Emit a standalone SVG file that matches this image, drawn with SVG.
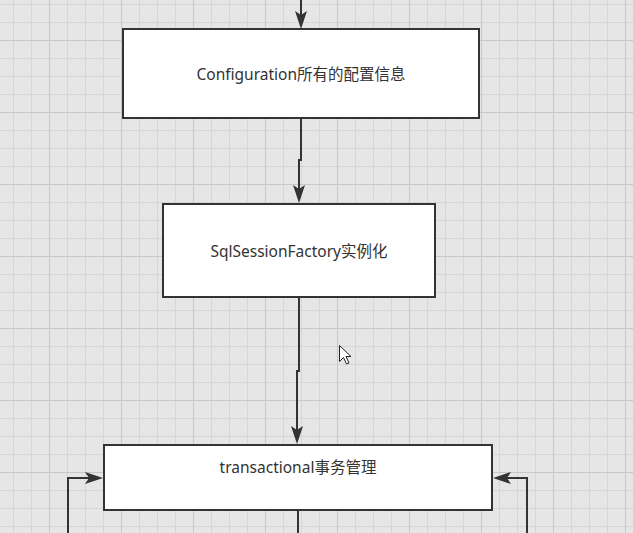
<svg xmlns="http://www.w3.org/2000/svg" width="633" height="533" viewBox="0 0 633 533">
  <style>
    .box { fill: #ffffff; stroke: #333333; stroke-width: 2; }
    .lbl { font-family: "Noto Sans", "Noto Sans CJK SC", sans-serif; font-size: 15.5px; fill: #333333; text-anchor: middle; }
    .conn { fill: none; stroke: #333333; stroke-width: 2; }
  </style>
  <defs>
    <pattern id="grid" patternUnits="userSpaceOnUse" x="49" y="40" width="72" height="72">
      <rect x="0" y="0" width="72" height="72" fill="#e6e6e6"/>
      <rect x="18" y="0" width="1" height="72" fill="#d6d6d6"/>
      <rect x="36" y="0" width="1" height="72" fill="#d6d6d6"/>
      <rect x="54" y="0" width="1" height="72" fill="#d6d6d6"/>
      <rect x="0" y="18" width="72" height="1" fill="#d6d6d6"/>
      <rect x="0" y="36" width="72" height="1" fill="#d6d6d6"/>
      <rect x="0" y="54" width="72" height="1" fill="#d6d6d6"/>
      <rect x="0" y="0" width="1" height="72" fill="#c8c8c8"/>
      <rect x="0" y="0" width="72" height="1" fill="#c8c8c8"/>
    </pattern>
    <marker id="arr" viewBox="0 0 18 12" markerWidth="18" markerHeight="12" refX="14" refY="6" orient="auto" markerUnits="userSpaceOnUse">
      <path d="M0,0 L18,6 L0,12 L4,6 Z" fill="#333333"/>
    </marker>
  </defs>
  <rect x="0" y="0" width="633" height="533" fill="url(#grid)"/>

  <g id="connectors">
    <path class="conn" d="M301,0 V25" marker-end="url(#arr)"/>
    <path class="conn" d="M301,119 V160 H299 V199" marker-end="url(#arr)"/>
    <path class="conn" d="M299,298 V371 H297 V440" marker-end="url(#arr)"/>
    <path class="conn" d="M298,511 V533"/>
    <path class="conn" d="M68,533 V478 H99" marker-end="url(#arr)"/>
    <path class="conn" d="M527,533 V478 H497" marker-end="url(#arr)"/>
  </g>

  <g id="node-configuration">
    <rect class="box" x="123" y="29" width="356" height="89"/>
    <text class="lbl" x="301" y="80">Configuration所有的配置信息</text>
  </g>
  <g id="node-sqlsessionfactory">
    <rect class="box" x="163" y="204" width="272" height="93"/>
    <text class="lbl" x="299" y="257">SqlSessionFactory实例化</text>
  </g>
  <g id="node-transactional">
    <rect class="box" x="104" y="445" width="388" height="65"/>
    <text class="lbl" x="298" y="473">transactional事务管理</text>
  </g>

  <g id="cursor">
    <path d="M339.5,345.5 V361.5 L343.5,357.5 L346.5,364 L349,363 L346,356.5 L351,356.5 Z" fill="#ffffff" stroke="#222222" stroke-width="1" stroke-linejoin="round"/>
  </g>
</svg>
